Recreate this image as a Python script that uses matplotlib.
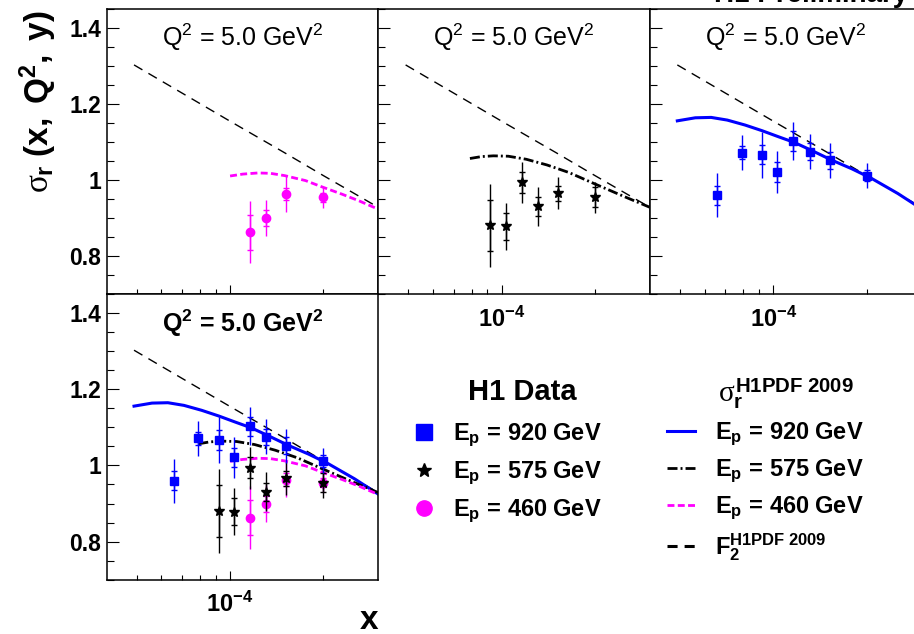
import matplotlib
matplotlib.use("Agg")
import matplotlib.pyplot as plt
from matplotlib.lines import Line2D
from matplotlib.ticker import FixedLocator, NullFormatter, MultipleLocator

plt.rcParams["font.family"] = ["Liberation Sans", "DejaVu Sans"]
plt.rcParams["mathtext.fontset"] = "custom"
plt.rcParams["mathtext.rm"] = "Liberation Sans"
plt.rcParams["mathtext.bf"] = "Liberation Sans:bold"
plt.rcParams["mathtext.sf"] = "Liberation Sans"
plt.rcParams["mathtext.it"] = "Liberation Serif"

# H1 reduced cross section at Q^2 = 5.0 GeV^2
# Ep = 920 GeV
x_920 = [6.6e-5, 7.9e-5, 9.2e-5, 1.03e-4, 1.16e-4, 1.31e-4, 1.52e-4, 2.0e-4]
y_920 = [0.960, 1.072, 1.067, 1.021, 1.103, 1.075, 1.052, 1.012]
tot_920 = [0.058, 0.046, 0.060, 0.055, 0.050, 0.046, 0.045, 0.033]
stat_920 = [0.025, 0.017, 0.025, 0.026, 0.025, 0.022, 0.022, 0.015]

# Ep = 575 GeV
x_575 = [9.2e-5, 1.03e-4, 1.16e-4, 1.31e-4, 1.52e-4, 2.0e-4]
y_575 = [0.881, 0.879, 0.994, 0.931, 0.966, 0.955]
tot_575 = [0.110, 0.062, 0.055, 0.051, 0.043, 0.040]
stat_575 = [0.068, 0.035, 0.028, 0.024, 0.020, 0.026]

# Ep = 460 GeV
x_460 = [1.16e-4, 1.31e-4, 1.52e-4, 2.0e-4]
y_460 = [0.863, 0.900, 0.963, 0.955]
tot_460 = [0.082, 0.048, 0.047, 0.027]
stat_460 = [0.046, 0.021, 0.016, 0.012]

# H1PDF 2009 predictions
cx_920 = [4.9e-5, 5.6e-5, 6.3e-5, 7.1e-5, 8.1e-5, 9.2e-5, 1.04e-4,
          1.17e-4, 1.33e-4, 1.54e-4, 1.79e-4, 2.07e-4, 2.52e-4, 3.0e-4]
cy_920 = [1.156, 1.164, 1.165, 1.158, 1.145, 1.130, 1.114,
          1.099, 1.078, 1.053, 1.030, 1.005, 0.965, 0.925]

cx_575 = [7.9e-5, 8.6e-5, 9.4e-5, 1.05e-4, 1.2e-4, 1.4e-4, 1.65e-4, 2.0e-4, 2.5e-4, 3.0e-4]
cy_575 = [1.057, 1.062, 1.064, 1.063, 1.055, 1.040, 1.020, 0.990, 0.956, 0.929]

cx_460 = [1.0e-4, 1.1e-4, 1.23e-4, 1.35e-4, 1.5e-4, 1.75e-4, 2.0e-4, 2.3e-4, 2.6e-4, 3.0e-4]
cy_460 = [1.011, 1.016, 1.019, 1.018, 1.012, 0.999, 0.981, 0.963, 0.946, 0.924]

cx_f2 = [4.9e-5, 7.0e-5, 1.0e-4, 1.5e-4, 2.0e-4, 3.0e-4]
cy_f2 = [1.303, 1.229, 1.155, 1.072, 1.012, 0.929]

Y_TICKS = [0.8, 1.0, 1.2, 1.4]
Y_TICK_LABELS = ["0.8", "1", "1.2", "1.4"]
X_MINOR = [5e-5, 6e-5, 7e-5, 8e-5, 9e-5, 2e-4]

BLUE = "#0000ff"
MAGENTA = "#ff00ff"

W, H = 914, 634
PW, PH = 271.3, 285.3

fig = plt.figure(figsize=(W / 100, H / 100), dpi=100)


def add_panel(left, top):
    return fig.add_axes([left / W, 1 - (top + PH) / H, PW / W, PH / H])


def style_panel(ax, ylabels=True, xlabels=True, bold_title=False):
    ax.set_xscale("log")
    ax.set_xlim(4.0e-5, 3.0e-4)
    ax.set_ylim(0.7, 1.45)
    ax.xaxis.set_major_locator(FixedLocator([1e-4]))
    ax.xaxis.set_minor_locator(FixedLocator(X_MINOR))
    ax.xaxis.set_minor_formatter(NullFormatter())
    ax.set_xticks([1e-4], [r"$\mathbf{10^{-4}}$"])
    ax.set_yticks(Y_TICKS, Y_TICK_LABELS if ylabels else [], fontweight="bold")
    ax.yaxis.set_minor_locator(MultipleLocator(0.05))
    ax.tick_params(axis="both", which="both", direction="in", top=False, right=False, width=0.8)
    ax.tick_params(axis="y", which="major", length=8.5, labelsize=16.5, pad=4)
    ax.tick_params(axis="y", which="minor", length=5)
    ax.tick_params(axis="x", which="major", length=6.5, labelsize=17, pad=9, labelbottom=xlabels)
    ax.tick_params(axis="x", which="minor", length=3.6)
    for sp in ax.spines.values():
        sp.set_linewidth(1.1)
    if bold_title:
        title = r"$\mathbf{Q^{2}\,=\,5.0\ GeV^{2}}$"
    else:
        title = r"$\mathrm{Q^{2}\,=\,5.0\ GeV^{2}}$"
    ax.text(0.5, 0.9, title, transform=ax.transAxes, ha="center", va="center", fontsize=18)


def draw_points(ax, x, y, tot, stat, color, marker, ms):
    ax.errorbar(x, y, yerr=tot, fmt="none", ecolor=color, elinewidth=1.0, capsize=0)
    ax.errorbar(x, y, yerr=stat, fmt="none", ecolor=color, elinewidth=1.0,
                capsize=2.5, capthick=1.0)
    ax.plot(x, y, ls="none", marker=marker, color=color, mec=color, ms=ms)


def draw_f2(ax):
    return ax.plot(cx_f2, cy_f2, color="black", lw=1.0, dashes=(7, 5))[0]


def draw_920(ax):
    return ax.plot(cx_920, cy_920, color=BLUE, lw=2.2)[0]


def draw_575(ax):
    return ax.plot(cx_575, cy_575, color="black", lw=2.0, dashes=(3.6, 1.1, 0.7, 1.1))[0]


def draw_460(ax):
    return ax.plot(cx_460, cy_460, color=MAGENTA, lw=2.0, dashes=(2.5, 1.2))[0]


# top row: one panel per proton beam energy
ax1 = add_panel(106.7, 9)
style_panel(ax1, xlabels=False)
draw_f2(ax1)
draw_460(ax1)
draw_points(ax1, x_460, y_460, tot_460, stat_460, MAGENTA, "o", 6)

ax2 = add_panel(378.3, 9)
style_panel(ax2, ylabels=False)
draw_f2(ax2)
draw_575(ax2)
draw_points(ax2, x_575, y_575, tot_575, stat_575, "black", "*", 7)

ax3 = add_panel(650, 9)
style_panel(ax3, ylabels=False)
draw_f2(ax3)
draw_920(ax3)
draw_points(ax3, x_920, y_920, tot_920, stat_920, BLUE, "s", 5.5)

# bottom panel: all three energies together
ax4 = add_panel(106.7, 294.3)
style_panel(ax4, bold_title=True)
draw_f2(ax4)
l_920 = draw_920(ax4)
l_575 = draw_575(ax4)
l_460 = draw_460(ax4)
draw_points(ax4, x_460, y_460, tot_460, stat_460, MAGENTA, "o", 6)
draw_points(ax4, x_575, y_575, tot_575, stat_575, "black", "*", 7)
draw_points(ax4, x_920, y_920, tot_920, stat_920, BLUE, "s", 5.5)

# axis titles
fig.text(38.5 / W, 1 - 10 / H, r"$\sigma_{\mathbf{r}}\ \mathbf{(x,\ Q^{2},\ y)}$",
         rotation=90, ha="center", va="top", fontsize=24)
fig.text(378 / W, 1 - 629 / H, "x", ha="right", va="baseline", fontsize=24, fontweight="bold")
fig.text(908 / W, 1 - 1.5 / H, "H1 Preliminary", ha="right", va="baseline",
         fontsize=20, fontweight="bold")

# legends
fig.text(522 / W, 1 - 392 / H, "H1 Data", ha="center", va="center", fontsize=21, fontweight="bold")
fig.text(718 / W, 1 - 394 / H, r"$\sigma_{\mathbf{r}}^{\mathbf{H1PDF\ 2009}}$",
         ha="left", va="center", fontsize=21)

data_handles = [
    Line2D([], [], ls="none", marker="s", color=BLUE, ms=11),
    Line2D([], [], ls="none", marker="*", color="black", ms=10),
    Line2D([], [], ls="none", marker="o", color=MAGENTA, ms=11),
]
energy_labels = [r"$\mathbf{E_{p}\,=\,920\ GeV}$",
                 r"$\mathbf{E_{p}\,=\,575\ GeV}$",
                 r"$\mathbf{E_{p}\,=\,460\ GeV}$"]
fig.legend(data_handles, energy_labels, loc="center left",
           bbox_to_anchor=(410 / W, 1 - 473.5 / H), frameon=False, fontsize=17,
           handlelength=1.2, handletextpad=0.62, labelspacing=0.45,
           borderpad=0, borderaxespad=0)

# thicker F2 sample in the legend
f2_handle = Line2D([], [], color="black", lw=2.2, dashes=(3.3, 2.3))
fig.legend([l_920, l_575, l_460, f2_handle],
           energy_labels + [r"$\mathbf{F_{2}^{H1PDF\ 2009}}$"], loc="center left",
           bbox_to_anchor=(667 / W, 1 - 492 / H), frameon=False, fontsize=17,
           handlelength=1.2, handletextpad=0.85, labelspacing=0.4,
           borderpad=0, borderaxespad=0)

fig.savefig("out.png", dpi=100)
